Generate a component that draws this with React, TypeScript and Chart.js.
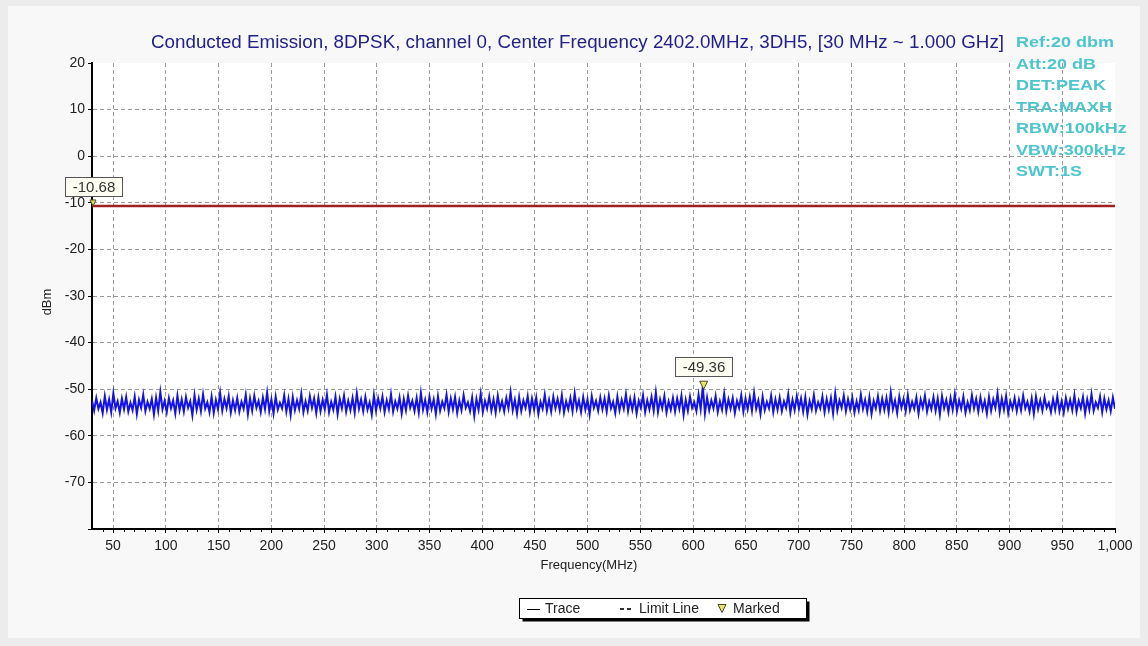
import React, { useEffect, useRef } from 'react';
import { Chart, registerables } from 'chart.js';

Chart.register(...registerables);

const TITLE = 'Conducted Emission, 8DPSK, channel 0, Center Frequency 2402.0MHz, 3DH5, [30 MHz ~ 1.000 GHz]';
const INFO_LINES = ['Ref:20 dbm', 'Att:20 dB', 'DET:PEAK', 'TRA:MAXH', 'RBW:100kHz', 'VBW:300kHz', 'SWT:1S'];
const X_TITLE = 'Frequency(MHz)';
const Y_TITLE = 'dBm';
const FREQ_START = 30;
const FREQ_STOP = 1000;
const X_TICKS = [50, 100, 150, 200, 250, 300, 350, 400, 450, 500, 550, 600, 650, 700, 750, 800, 850, 900, 950, 1000];
const Y_MIN = -80;
const Y_MAX = 20;
const LIMIT_DBM = -10.68;
const LIMIT_LABEL = '-10.68';
const MARKER_FREQ = 610;
const MARKER_DBM = -49.36;
const MARKER_LABEL = '-49.36';
const LEGEND_ITEMS = ['Trace', 'Limit Line', 'Marked'];

const TRACE_DBM = [
  -52.4, -54.6, -51.9, -54.2, -52.8, -55.1, -51.5, -54.4, -52.2, -54.9, -50.9, -54.1, -52.6, -55.0, -52.0, -54.3, -51.7, -54.8, -52.9, -54.5,
  -51.6, -55.3, -52.3, -54.0, -51.2, -54.7, -52.7, -54.2, -52.1, -55.4, -51.8, -54.6, -50.6, -54.3, -52.5, -54.9, -51.9, -54.1, -52.4, -55.2,
  -51.4, -54.5, -52.2, -54.8, -51.7, -54.0, -52.6, -55.6, -51.3, -54.4, -52.0, -54.7, -51.1, -54.2, -52.8, -54.9, -51.6, -55.1, -52.3, -54.3,
  -50.8, -54.6, -52.1, -54.1, -51.5, -55.0, -52.4, -54.5, -51.9, -54.8, -52.7, -54.2, -51.2, -55.3, -52.0, -54.6, -51.4, -54.0, -52.5, -54.9,
  -51.8, -54.3, -50.7, -54.7, -52.2, -55.2, -51.6, -54.4, -52.9, -54.1, -51.3, -54.8, -52.1, -55.5, -51.7, -54.5, -52.4, -54.2, -51.0, -54.9,
  -52.6, -54.6, -51.5, -54.0, -52.0, -55.1, -51.8, -54.7, -52.3, -54.3, -51.2, -54.9, -52.7, -54.4, -51.6, -55.3, -52.1, -54.1, -51.4, -54.8,
  -52.5, -54.5, -51.9, -55.0, -50.9, -54.2, -52.2, -54.7, -51.7, -54.4, -52.8, -55.4, -51.3, -54.6, -52.0, -54.1, -51.6, -54.9, -52.4, -54.3,
  -51.1, -54.8, -52.6, -54.2, -51.8, -55.2, -52.1, -54.5, -51.4, -54.0, -52.5, -54.7, -51.9, -55.0, -50.8, -54.4, -52.3, -54.9, -51.6, -54.2,
  -52.2, -55.3, -51.5, -54.6, -52.7, -54.1, -51.2, -54.8, -52.0, -54.3, -51.7, -55.1, -52.4, -54.5, -51.3, -54.0, -52.8, -54.7, -51.8, -55.7,
  -52.1, -54.4, -51.0, -54.9, -52.5, -54.2, -51.6, -54.6, -52.2, -55.0, -51.4, -54.3, -52.6, -54.8, -51.9, -54.1, -50.6, -54.5, -52.3, -55.2,
  -51.7, -54.7, -52.4, -54.0, -51.5, -54.9, -52.0, -54.4, -51.8, -55.3, -52.7, -54.2, -51.2, -54.6, -52.3, -54.8, -51.6, -54.1, -52.1, -54.5,
  -51.3, -55.0, -52.6, -54.3, -51.9, -54.7, -50.9, -54.2, -52.4, -54.9, -51.7, -54.4, -52.2, -55.4, -51.5, -54.0, -52.5, -54.6, -51.8, -54.3,
  -52.0, -54.8, -51.4, -54.1, -52.7, -55.1, -51.6, -54.5, -52.3, -54.2, -51.1, -54.7, -52.1, -54.4, -51.8, -55.2, -52.5, -54.0, -51.3, -54.9,
  -52.4, -54.3, -51.7, -54.6, -50.7, -54.9, -52.2, -54.1, -51.5, -55.0, -52.6, -54.4, -51.9, -54.8, -52.0, -54.2, -51.4, -55.5, -52.3, -54.6,
  -51.6, -54.0, -52.8, -54.7, -51.2, -54.3, -49.4, -55.2, -51.8, -54.5, -52.4, -54.1, -51.5, -54.9, -52.6, -54.4, -51.0, -54.7, -52.2, -54.2,
  -51.9, -55.1, -52.5, -54.0, -51.3, -54.8, -52.0, -54.3, -51.7, -54.6, -50.8, -54.2, -52.4, -55.3, -51.6, -54.5, -52.7, -54.1, -51.4, -54.9,
  -52.2, -54.4, -51.8, -54.7, -52.6, -54.0, -51.1, -55.0, -52.3, -54.5, -51.5, -54.2, -52.0, -54.8, -51.7, -55.4, -52.5, -54.3, -51.3, -54.6,
  -52.8, -54.1, -51.6, -54.9, -52.1, -54.4, -51.9, -55.2, -50.9, -54.6, -52.4, -54.0, -51.4, -54.7, -52.2, -54.3, -51.8, -55.0, -52.6, -54.5,
  -51.2, -54.2, -52.3, -54.8, -51.7, -55.3, -52.5, -54.1, -51.5, -54.6, -52.0, -54.4, -51.9, -54.9, -50.7, -54.3, -52.4, -55.1, -51.6, -54.0,
  -52.1, -54.7, -51.3, -54.5, -52.7, -54.2, -51.8, -55.2, -52.2, -54.0, -51.4, -54.8, -52.6, -54.3, -51.7, -54.6, -52.0, -55.4, -51.5, -54.1,
  -52.3, -54.9, -51.9, -54.4, -51.1, -54.7, -52.4, -54.2, -51.6, -55.0, -52.8, -54.5, -51.3, -54.1, -52.1, -54.8, -51.8, -54.3, -52.5, -55.2,
  -51.7, -54.6, -52.2, -54.0, -50.9, -54.9, -52.0, -54.4, -51.5, -55.1, -52.6, -54.2, -51.9, -54.7, -52.3, -54.5, -51.4, -54.1, -52.7, -54.8,
  -52.0, -55.3, -51.6, -54.3, -52.4, -54.6, -51.8, -54.0, -52.9, -54.9, -52.1, -54.4, -51.5, -54.7, -52.6, -55.0, -51.9, -54.2, -52.3, -54.5,
  -51.3, -54.8, -52.5, -54.1, -51.7, -55.2, -52.2, -54.4, -51.1, -54.6, -52.8, -54.0, -51.6, -54.9, -52.0, -54.3, -52.4, -54.7, -51.8, -54.2,
];

const FONT = 'Arial, "Liberation Sans", sans-serif';

function drawTriangle(ctx: CanvasRenderingContext2D, x: number, tipY: number, size: number) {
  ctx.save();
  ctx.beginPath();
  ctx.moveTo(x - size / 2, tipY - size);
  ctx.lineTo(x + size / 2, tipY - size);
  ctx.lineTo(x, tipY);
  ctx.closePath();
  ctx.fillStyle = '#e6e66a';
  ctx.fill();
  ctx.strokeStyle = '#4a4a20';
  ctx.lineWidth = 1;
  ctx.stroke();
  ctx.restore();
}

function drawValueBox(ctx: CanvasRenderingContext2D, cx: number, bottom: number, text: string) {
  ctx.save();
  ctx.font = `15px ${FONT}`;
  const w = Math.round(ctx.measureText(text).width + 14);
  const h = 19;
  const x = Math.round(cx - w / 2) + 0.5;
  const y = Math.round(bottom - h) + 0.5;
  ctx.fillStyle = '#fdfdf2';
  ctx.fillRect(x, y, w, h);
  ctx.strokeStyle = '#555';
  ctx.lineWidth = 1;
  ctx.strokeRect(x, y, w, h);
  ctx.fillStyle = '#333';
  ctx.textAlign = 'center';
  ctx.textBaseline = 'middle';
  ctx.fillText(text, x + w / 2, y + h / 2 + 1);
  ctx.restore();
}

function fillStretched(ctx: CanvasRenderingContext2D, text: string, x: number, y: number, sx: number) {
  ctx.save();
  ctx.translate(x, y);
  ctx.scale(sx, 1);
  ctx.fillText(text, 0, 0);
  ctx.restore();
}

const decorPlugin = {
  id: 'decor',
  beforeDraw(chart: any) {
    const { ctx, chartArea } = chart;
    ctx.save();
    ctx.fillStyle = '#ececec';
    ctx.fillRect(0, 0, chart.width, chart.height);
    ctx.fillStyle = '#f8f8f8';
    ctx.fillRect(8, 6, chart.width - 16, chart.height - 14);
    ctx.fillStyle = '#ffffff';
    ctx.fillRect(chartArea.left, chartArea.top, chartArea.right - chartArea.left, chartArea.bottom - chartArea.top);
    ctx.restore();
  },
  afterDraw(chart: any) {
    const { ctx, chartArea, scales } = chart;
    const xs = scales.x;
    const ys = scales.y;
    ctx.save();

    // minor ticks on x axis
    ctx.strokeStyle = '#000';
    ctx.lineWidth = 1;
    for (let f = 40; f < FREQ_STOP; f += 10) {
      if (f % 50 === 0) continue;
      const px = Math.round(xs.getPixelForValue(f)) + 0.5;
      ctx.beginPath();
      ctx.moveTo(px, chartArea.bottom);
      ctx.lineTo(px, chartArea.bottom + 3);
      ctx.stroke();
    }

    // title
    ctx.font = `18px ${FONT}`;
    ctx.fillStyle = '#22228a';
    ctx.textAlign = 'left';
    ctx.textBaseline = 'middle';
    const tw = ctx.measureText(TITLE).width;
    fillStretched(ctx, TITLE, 151, 43, 853 / tw);

    // info lines
    ctx.font = `bold 15px ${FONT}`;
    ctx.fillStyle = '#4cc6cc';
    const iw = ctx.measureText(INFO_LINES[0]).width;
    INFO_LINES.forEach((line, i) => {
      fillStretched(ctx, line, 1016, 43 + i * 21.5, 98 / iw);
    });

    // axis titles
    ctx.font = `13px ${FONT}`;
    ctx.fillStyle = '#222';
    ctx.textAlign = 'center';
    ctx.fillText(X_TITLE, 589, 565);
    ctx.save();
    ctx.translate(47, 302);
    ctx.rotate(-Math.PI / 2);
    ctx.fillText(Y_TITLE, 0, 0);
    ctx.restore();

    // limit marker
    const lx = xs.getPixelForValue(FREQ_START) + 1;
    const ly = ys.getPixelForValue(LIMIT_DBM);
    drawTriangle(ctx, lx, ly, 6);
    drawValueBox(ctx, lx, ly - 10, LIMIT_LABEL);

    // peak marker
    const mx = xs.getPixelForValue(MARKER_FREQ);
    const my = ys.getPixelForValue(MARKER_DBM);
    drawTriangle(ctx, mx, my + 3, 8);
    drawValueBox(ctx, mx, my - 10, MARKER_LABEL);

    // legend
    const bx = 519.5, by = 598.5, bw = 287, bh = 20;
    ctx.fillStyle = '#000';
    ctx.fillRect(bx + 3, by + 3, bw, bh);
    ctx.fillStyle = '#fff';
    ctx.fillRect(bx, by, bw, bh);
    ctx.strokeStyle = '#000';
    ctx.lineWidth = 1;
    ctx.strokeRect(bx, by, bw, bh);
    const midY = by + bh / 2;
    ctx.font = `14px ${FONT}`;
    ctx.textAlign = 'left';
    ctx.fillStyle = '#222';
    ctx.beginPath();
    ctx.moveTo(527, Math.round(midY) + 0.5);
    ctx.lineTo(540, Math.round(midY) + 0.5);
    ctx.stroke();
    ctx.fillText(LEGEND_ITEMS[0], 545, midY + 1);
    ctx.setLineDash([4, 3]);
    ctx.strokeStyle = '#333';
    ctx.lineWidth = 2;
    ctx.beginPath();
    ctx.moveTo(620, Math.round(midY));
    ctx.lineTo(634, Math.round(midY));
    ctx.stroke();
    ctx.setLineDash([]);
    ctx.fillText(LEGEND_ITEMS[1], 639, midY + 1);
    drawTriangle(ctx, 722, midY + 4, 8);
    ctx.fillStyle = '#222';
    ctx.fillText(LEGEND_ITEMS[2], 733, midY + 1);

    ctx.restore();
  },
};

export default function App() {
  const canvasRef = useRef<HTMLCanvasElement | null>(null);

  useEffect(() => {
    document.body.style.margin = '0';
    const canvas = canvasRef.current;
    if (!canvas) return;
    const step = (FREQ_STOP - FREQ_START) / (TRACE_DBM.length - 1);
    const traceData = TRACE_DBM.map((v, i) => ({ x: FREQ_START + i * step, y: v }));
    const limitData = [
      { x: FREQ_START, y: LIMIT_DBM },
      { x: FREQ_STOP, y: LIMIT_DBM },
    ];
    const gridColor = (ctx: any) => {
      const v = ctx.tick ? ctx.tick.value : null;
      if (v === Y_MAX || v === Y_MIN || v === FREQ_STOP) return 'rgba(0,0,0,0)';
      return '#9a9a9a';
    };
    const chart = new Chart(canvas, {
      type: 'line',
      data: {
        datasets: [
          {
            label: 'Limit Line',
            data: limitData,
            borderColor: '#a02020',
            borderWidth: 2.5,
            pointRadius: 0,
          },
          {
            label: 'Trace',
            data: traceData,
            borderColor: '#1212e6',
            borderWidth: 2,
            pointRadius: 0,
            tension: 0,
          },
        ],
      },
      options: {
        animation: false,
        responsive: false,
        events: [],
        layout: { padding: { left: 0, top: 63, right: 33, bottom: 0 } },
        plugins: {
          legend: { display: false },
          title: { display: false },
          tooltip: { enabled: false },
        },
        scales: {
          x: {
            type: 'linear',
            min: FREQ_START,
            max: FREQ_STOP,
            afterBuildTicks: (s: any) => {
              s.ticks = X_TICKS.map((v) => ({ value: v }));
            },
            afterFit: (s: any) => {
              s.height = 646 - 529;
            },
            grid: {
              color: gridColor,
              lineWidth: 1,
              tickColor: '#000',
              tickLength: 4,
              drawTicks: true,
            },
            border: { display: true, color: '#000', width: 2, dash: [4, 3] },
            ticks: {
              autoSkip: false,
              maxRotation: 0,
              padding: 5,
              color: '#222',
              font: { family: FONT, size: 14 },
              callback: (v: any) => (Number(v) === 1000 ? '1,000' : String(v)),
            },
          },
          y: {
            type: 'linear',
            min: Y_MIN,
            max: Y_MAX,
            afterFit: (s: any) => {
              s.width = 92;
            },
            grid: {
              color: gridColor,
              lineWidth: 1,
              tickColor: '#000',
              tickLength: 4,
            },
            border: { display: true, color: '#000', width: 2, dash: [4, 3] },
            ticks: {
              stepSize: 10,
              padding: 3,
              color: '#222',
              font: { family: FONT, size: 14 },
              callback: (v: any) => (Number(v) === Y_MIN ? '' : String(v)),
            },
          },
        },
      },
      plugins: [decorPlugin],
    });
    return () => chart.destroy();
  }, []);

  return (
    <div style={{ width: 1148, height: 646 }}>
      <canvas ref={canvasRef} width={1148} height={646} style={{ display: 'block' }} />
    </div>
  );
}
